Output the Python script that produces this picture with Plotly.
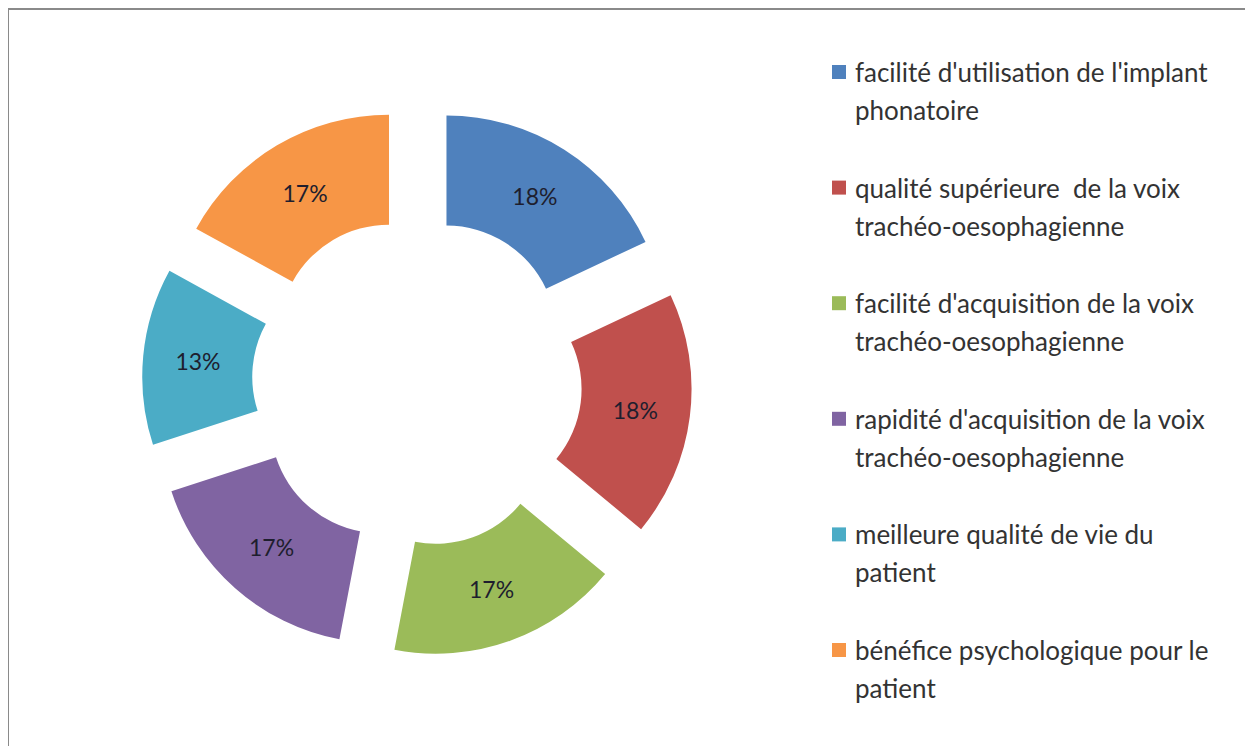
import plotly.graph_objects as go

# ---- data ----
categories = [
    "facilité d'utilisation de l'implant phonatoire",
    "qualité supérieure de la voix trachéo-oesophagienne",
    "facilité d'acquisition de la voix trachéo-oesophagienne",
    "rapidité d'acquisition de la voix trachéo-oesophagienne",
    "meilleure qualité de vie du patient",
    "bénéfice psychologique pour le patient",
]
legend_lines = [
    ["facilité d'utilisation de l'implant", "phonatoire"],
    ["qualité supérieure  de la voix", "trachéo-oesophagienne"],
    ["facilité d'acquisition de la voix", "trachéo-oesophagienne"],
    ["rapidité d'acquisition de la voix", "trachéo-oesophagienne"],
    ["meilleure qualité de vie du", "patient"],
    ["bénéfice psychologique pour le", "patient"],
]
values = [18, 18, 17, 17, 13, 17]
colors = ["#4F81BD", "#C0504D", "#9BBB59", "#8064A2", "#4BACC6", "#F79646"]

# page has an 8px body margin; figure sized to fill the rest of the window
OFF = 8
W, H = 1253 - OFF, 746 - OFF
FONT = "Lato"


def px(x):
    return (x - OFF) / W


def py(y):
    return (H - (y - OFF)) / H


CX, CY, HALF = 417, 382, 275

fig = go.Figure()
fig.add_trace(go.Pie(
    labels=categories,
    values=values,
    hole=0.5,
    pull=[0.25] * len(values),
    sort=False,
    direction="clockwise",
    rotation=0,
    marker=dict(colors=colors, line=dict(width=0)),
    textinfo="percent",
    textposition="inside",
    insidetextorientation="horizontal",
    textfont=dict(family=FONT, size=23, color="#1e1e2e"),
    domain=dict(x=[px(CX - HALF), px(CX + HALF)],
                y=[py(CY + HALF), py(CY - HALF)]),
    showlegend=False,
))

shapes = [
    dict(type="rect", xref="paper", yref="paper",
         x0=px(8), x1=px(1251), y0=-0.02, y1=py(9),
         line=dict(color="#8a8a8a", width=2), fillcolor="rgba(0,0,0,0)", layer="below"),
]
annotations = []
y_first = 72
step = 115.6
line_gap = 38
for i, (lines, col) in enumerate(zip(legend_lines, colors)):
    yc = y_first + step * i
    shapes.append(dict(type="rect", xref="paper", yref="paper",
                       x0=px(832), x1=px(846),
                       y0=py(yc + 7), y1=py(yc - 7),
                       line=dict(width=0), fillcolor=col))
    for j, txt in enumerate(lines):
        annotations.append(dict(
            text=txt, xref="paper", yref="paper",
            x=px(853), y=py(yc + j * line_gap),
            xanchor="left", yanchor="middle", showarrow=False,
            font=dict(family=FONT, size=26, color="#333333"),
        ))

fig.update_layout(
    width=W, height=H,
    margin=dict(l=0, r=0, t=0, b=0),
    paper_bgcolor="white",
    plot_bgcolor="white",
    shapes=shapes,
    annotations=annotations,
    showlegend=False,
)

fig.write_html("out.html")
